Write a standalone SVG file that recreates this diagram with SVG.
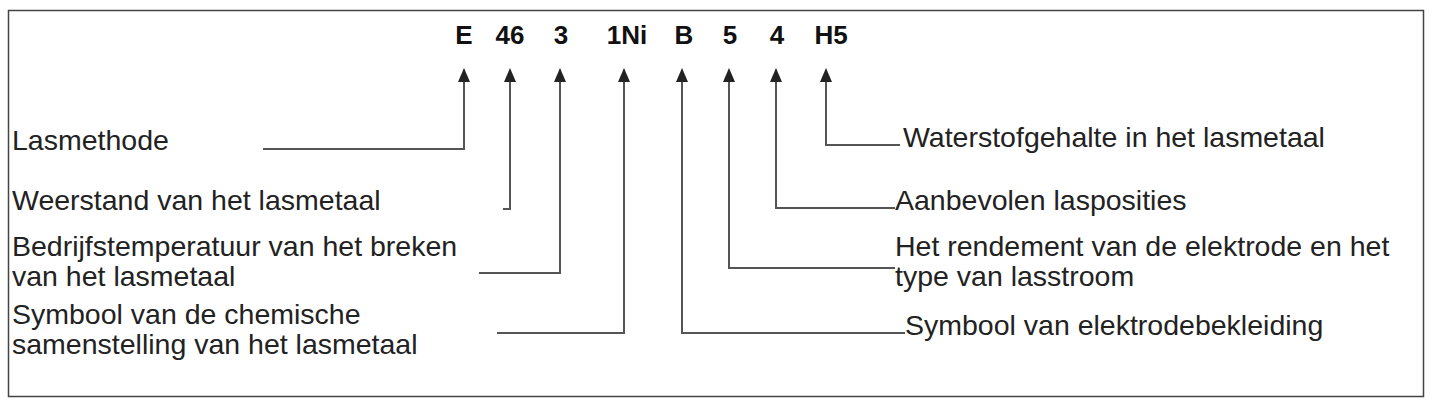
<svg xmlns="http://www.w3.org/2000/svg" width="1434" height="403" viewBox="0 0 1434 403">
<defs><marker id="a" markerWidth="12" markerHeight="14" refX="6" refY="14" orient="0" markerUnits="userSpaceOnUse" viewBox="0 0 12 14"><path d="M0,14 L6,0 L12,14 Z" fill="#222"/></marker></defs>
<style>.l{fill:none;stroke:#555;stroke-width:2}.t{font-family:"Liberation Sans",Arial,sans-serif;font-size:28.5px;fill:#222}.c{font-family:"Liberation Sans",Arial,sans-serif;font-size:26px;font-weight:bold;fill:#111;text-anchor:middle}</style>
<rect width="1434" height="403" fill="#fff"/>
<rect x="8.5" y="10.5" width="1415" height="386" fill="none" stroke="#444" stroke-width="1.5"/>
<g id="codes">
<text class="c" x="464" y="44">E</text><text class="c" x="510" y="44">46</text><text class="c" x="561" y="44">3</text><text class="c" x="627" y="44">1Ni</text><text class="c" x="684" y="44">B</text><text class="c" x="730" y="44">5</text><text class="c" x="777" y="44">4</text><text class="c" x="831" y="44">H5</text>
</g>
<g id="connectors">
<path class="l" marker-start="url(#a)" d="M464,82 V149 H263"/>
<path class="l" marker-start="url(#a)" d="M510,82 V209 H503"/>
<path class="l" marker-start="url(#a)" d="M560,82 V273 H479"/>
<path class="l" marker-start="url(#a)" d="M624,82 V333 H497"/>
<path class="l" marker-start="url(#a)" d="M682,82 V333 H905"/>
<path class="l" marker-start="url(#a)" d="M729,82 V268 H895"/>
<path class="l" marker-start="url(#a)" d="M776,82 V208 H895"/>
<path class="l" marker-start="url(#a)" d="M826,82 V145 H900"/>
</g>
<g id="labels">
<text class="t" x="12" y="150">Lasmethode</text>
<text class="t" x="12" y="210">Weerstand van het  lasmetaal</text>
<text class="t" x="12" y="256">Bedrijfstemperatuur van het breken</text>
<text class="t" x="12" y="286">van het lasmetaal</text>
<text class="t" x="12" y="324">Symbool van de chemische</text>
<text class="t" x="12" y="354">samenstelling van het lasmetaal</text>
<text class="t" x="903" y="147">Waterstofgehalte in het lasmetaal</text>
<text class="t" x="895" y="210">Aanbevolen lasposities</text>
<text class="t" x="895" y="256">Het rendement van de elektrode en het</text>
<text class="t" x="895" y="286">type van lasstroom</text>
<text class="t" x="905" y="335">Symbool van elektrodebekleiding</text>
</g>
</svg>
